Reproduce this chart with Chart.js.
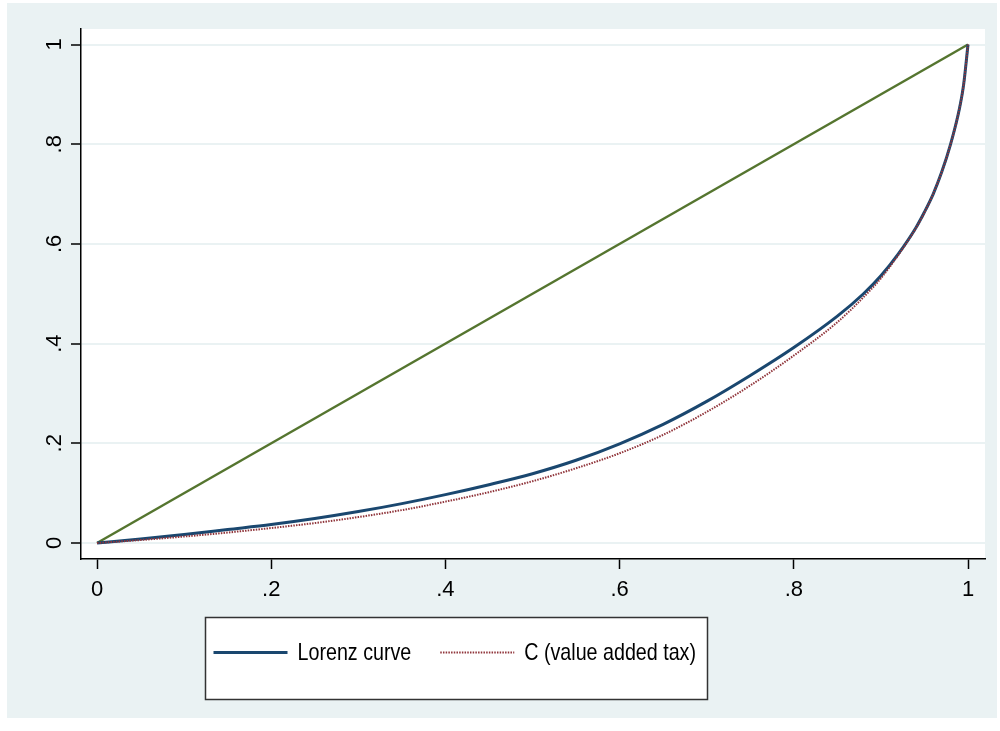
<!DOCTYPE html>
<html>
<head>
<meta charset="utf-8">
<script src="https://cdn.jsdelivr.net/npm/chart.js@4"></script>
<style>
  body { margin: 0; background: #fff; }
  #wrap { width: 1000px; height: 731px; position: relative; }
</style>
</head>
<body>
<div id="wrap"><canvas id="lorenz"></canvas></div>
<script>
// cumulative population share
const popShare = [0, 0.05, 0.1, 0.15, 0.2, 0.25, 0.3, 0.35, 0.4, 0.45, 0.5, 0.55, 0.6, 0.65, 0.7, 0.75, 0.8, 0.85, 0.88, 0.9, 0.92, 0.94, 0.95, 0.96, 0.97, 0.98, 0.99, 0.995, 1];
const lorenzCurve = [0, 0.008, 0.017, 0.027, 0.037, 0.049, 0.063, 0.079, 0.097, 0.117, 0.139, 0.166, 0.199, 0.238, 0.284, 0.336, 0.392, 0.455, 0.5, 0.536, 0.58, 0.632, 0.664, 0.7, 0.745, 0.8, 0.87, 0.92, 1];
const vatCurve = [0, 0.006, 0.013, 0.021, 0.03, 0.04, 0.052, 0.066, 0.083, 0.102, 0.124, 0.15, 0.18, 0.217, 0.263, 0.316, 0.376, 0.443, 0.493, 0.531, 0.578, 0.631, 0.663, 0.7, 0.745, 0.8, 0.87, 0.92, 1];
const equalityX = [0, 1];
const equalityY = [0, 1];

const tickValues = [0, 0.2, 0.4, 0.6, 0.8, 1];
const tickLabels = ['0', '.2', '.4', '.6', '.8', '1'];

const seriesNames = ['Lorenz curve', 'C (value added tax)'];

const FONT = "'Liberation Sans', Arial, sans-serif";

function toPoints(xs, ys) {
  return xs.map((x, i) => ({ x: x, y: ys[i] }));
}

function fixedTicks(scale) {
  scale.ticks = tickValues.map(v => ({ value: v }));
}

function tickText(value) {
  const idx = tickValues.indexOf(value);
  return idx >= 0 ? tickLabels[idx] : '';
}

// stata-like backgrounds
const backdrop = {
  id: 'backdrop',
  beforeDraw(chart) {
    const ctx = chart.ctx;
    const a = chart.chartArea;
    ctx.save();
    ctx.fillStyle = '#ffffff';
    ctx.fillRect(0, 0, chart.width, chart.height);
    ctx.fillStyle = '#EAF2F3';
    ctx.fillRect(7, 3, 990, 715);
    ctx.fillStyle = '#ffffff';
    ctx.fillRect(a.left, a.top, a.right - a.left, a.bottom - a.top);
    ctx.restore();
  }
};

// boxed legend under the plot (text squeezed a bit, like the stata export)
const boxLegend = {
  id: 'boxLegend',
  afterDraw(chart) {
    const ctx = chart.ctx;
    const box = { x: 205.5, y: 617.5, w: 502, h: 82 };
    const squeeze = 0.82;
    ctx.save();
    ctx.fillStyle = '#fff';
    ctx.fillRect(box.x, box.y, box.w, box.h);
    ctx.strokeStyle = '#333';
    ctx.lineWidth = 1.5;
    ctx.strokeRect(box.x, box.y, box.w, box.h);

    ctx.font = '24px ' + FONT;
    ctx.textBaseline = 'middle';
    ctx.fillStyle = '#000';
    const cy = box.y + 35;
    let x = box.x + 8;
    seriesNames.forEach((name) => {
      const ds = chart.data.datasets.find(d => d.label === name);
      ctx.beginPath();
      ctx.strokeStyle = ds.borderColor;
      ctx.lineWidth = ds.borderWidth;
      ctx.setLineDash(ds.borderDash || []);
      ctx.moveTo(x, cy);
      ctx.lineTo(x + 74, cy);
      ctx.stroke();
      ctx.setLineDash([]);
      x += 84;
      ctx.save();
      ctx.translate(x, cy + 1);
      ctx.scale(squeeze, 1);
      ctx.fillText(name, 0, 0);
      ctx.restore();
      x += ctx.measureText(name).width * squeeze + 29;
    });
    ctx.restore();
  }
};

new Chart(document.getElementById('lorenz'), {
  type: 'line',
  data: {
    datasets: [{
      label: 'C (value added tax)',
      data: toPoints(popShare, vatCurve),
      borderColor: '#90353B',
      borderWidth: 2,
      borderDash: [1.5, 1.2],
      pointRadius: 0,
      cubicInterpolationMode: 'monotone',
      order: 0
    }, {
      label: 'Lorenz curve',
      data: toPoints(popShare, lorenzCurve),
      borderColor: '#1A476F',
      borderWidth: 3,
      pointRadius: 0,
      cubicInterpolationMode: 'monotone',
      order: 1
    }, {
      label: 'Equality',
      data: toPoints(equalityX, equalityY),
      borderColor: '#55752F',
      borderWidth: 2.5,
      pointRadius: 0,
      order: 2
    }]
  },
  options: {
    responsive: true,
    maintainAspectRatio: false,
    animation: false,
    layout: { padding: { left: 0, top: 29, right: 15, bottom: 112 } },
    plugins: {
      legend: { display: false },
      tooltip: { enabled: false }
    },
    scales: {
      x: {
        type: 'linear',
        min: -0.0184,
        max: 1.0195,
        afterBuildTicks: fixedTicks,
        afterFit: s => { s.height = 60; },
        border: { color: '#000', width: 1.5 },
        grid: { drawOnChartArea: false, drawTicks: true, tickLength: 10, tickColor: '#000', tickWidth: 1.5 },
        ticks: {
          autoSkip: false,
          maxRotation: 0,
          padding: 8,
          color: '#000',
          font: { family: FONT, size: 22 },
          callback: tickText
        }
      },
      y: {
        type: 'linear',
        min: -0.0321,
        max: 1.0311,
        afterBuildTicks: fixedTicks,
        afterFit: s => { s.width = 81; },
        border: { color: '#000', width: 1.5 },
        grid: { color: '#EAF2F3', lineWidth: 2, drawTicks: true, tickLength: 10, tickColor: '#000', tickWidth: 1.5 },
        ticks: {
          autoSkip: false,
          minRotation: 90,
          maxRotation: 90,
          crossAlign: 'center',
          padding: 7,
          color: '#000',
          font: { family: FONT, size: 22 },
          callback: tickText
        }
      }
    }
  },
  plugins: [backdrop, boxLegend]
});
</script>
</body>
</html>
